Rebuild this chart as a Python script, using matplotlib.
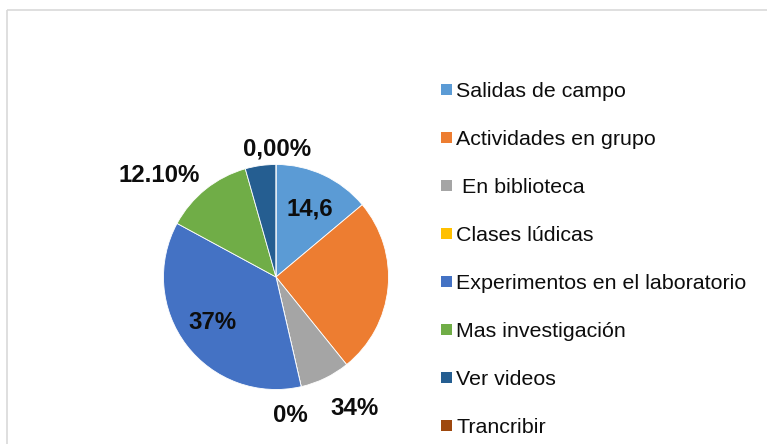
import matplotlib
matplotlib.use("Agg")
import matplotlib.pyplot as plt
from matplotlib.patches import Rectangle

categories = ["Salidas de campo", "Actividades en grupo", " En biblioteca", "Clases lúdicas",
              "Experimentos en el laboratorio", "Mas investigación", "Ver videos", "Trancribir"]
values = [13.9, 25.3, 7.2, 0.0, 36.5, 12.7, 4.4, 0.0]
colors = ["#5B9BD5", "#ED7D31", "#A5A5A5", "#FFC000", "#4472C4", "#70AD47", "#255E91", "#9E480E"]
label_texts = ["14,6", "34%", "0%", "37%", "12.10%", "0,00%"]
label_pos = [(310, 215), (355, 415), (290, 421.7), (212.7, 329.3), (159.3, 181.7), (277, 155)]

W, H = 767, 444
fig = plt.figure(figsize=(W / 100, H / 100), dpi=100)

# pie axes with y-up
pax = fig.add_axes([0, 0, 1, 1])
pax.pie(values, colors=colors, startangle=90, counterclock=False,
        center=(276, H - 277), radius=112.5,
        wedgeprops=dict(edgecolor="white", linewidth=0.6))
pax.set_xlim(0, W)
pax.set_ylim(0, H)
pax.set_aspect("auto")
pax.axis("off")

# overlay axes in pixel coordinates (y down)
ax = fig.add_axes([0, 0, 1, 1])
ax.set_xlim(0, W)
ax.set_ylim(H, 0)
ax.axis("off")
ax.patch.set_alpha(0)

ax.add_patch(Rectangle((7, 10), 800, 500, fill=False, edgecolor="#D9D9D9", linewidth=1.2))

font = "Liberation Sans"
for t, (x, y) in zip(label_texts, label_pos):
    ax.text(x, y, t, ha="center", va="baseline", fontsize=17.3, fontweight="bold",
            family=font, color="#0d0d0d")

# legend
y0, dy = 89.3, 48.0
for i, (cat, c) in enumerate(zip(categories, colors)):
    yc = y0 + i * dy
    ax.add_patch(Rectangle((441, yc - 5.2), 10.5, 10.5, facecolor=c, edgecolor="none"))
    ax.text(456.5, yc + 8.0, cat, ha="left", va="baseline", fontsize=15.4,
            family=font, color="#0d0d0d")

fig.savefig("out.png", dpi=100)
